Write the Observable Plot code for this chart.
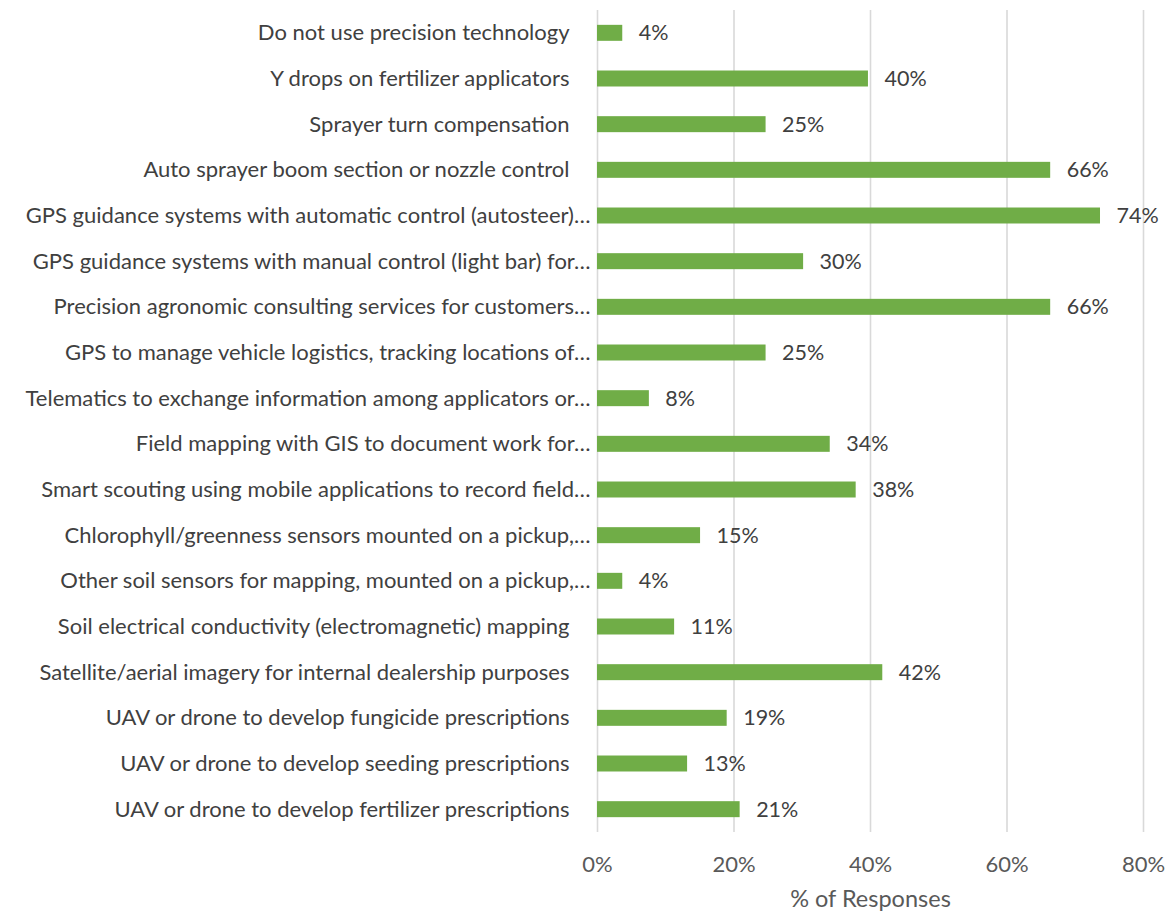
<!DOCTYPE html>
<html>
<head>
<meta charset="utf-8">
<script src="https://cdn.jsdelivr.net/npm/d3@7"></script>
<script src="https://cdn.jsdelivr.net/npm/@observablehq/plot@0.6"></script>
<style>
  html, body { margin: 0; padding: 0; background: #ffffff; }
  #chart { width: 1169px; height: 913px; }
</style>
</head>
<body>
<div id="chart"></div>
<script>
const categories = [
  "Do not use precision technology",
  "Y drops on fertilizer applicators",
  "Sprayer turn compensation",
  "Auto sprayer boom section or nozzle control",
  "GPS guidance systems with automatic control (autosteer)…",
  "GPS guidance systems with manual control (light bar) for…",
  "Precision agronomic consulting services for customers…",
  "GPS to manage vehicle logistics, tracking locations of…",
  "Telematics to exchange information among applicators or…",
  "Field mapping with GIS to document work for…",
  "Smart scouting using mobile applications to record field…",
  "Chlorophyll/greenness sensors mounted on a pickup,…",
  "Other soil sensors for mapping, mounted on a pickup,…",
  "Soil electrical conductivity (electromagnetic) mapping",
  "Satellite/aerial imagery for internal dealership purposes",
  "UAV or drone to develop fungicide prescriptions",
  "UAV or drone to develop seeding prescriptions",
  "UAV or drone to develop fertilizer prescriptions"
];
const values = [0.037, 0.397, 0.247, 0.664, 0.737, 0.302, 0.664, 0.247, 0.076, 0.341, 0.379, 0.151, 0.037, 0.113, 0.418, 0.19, 0.132, 0.209];
const xTicks = [0, 0.2, 0.4, 0.6, 0.8];
const xLabel = "% of Responses";

const data = categories.map((c, i) => ({category: c, value: values[i]}));
const pct = d3.format(".0%");
const truncated = categories.filter(c => c.endsWith("…"));
const full = categories.filter(c => !c.endsWith("…"));

const chart = Plot.plot({
  width: 1169,
  height: 913,
  marginLeft: 597,
  marginRight: 26,
  marginTop: 10,
  marginBottom: 81,
  style: {fontFamily: "Lato, sans-serif", fontSize: "22px", color: "#404040", background: "#ffffff"},
  x: {domain: [0, 0.8], ticks: xTicks, tickFormat: pct, label: null},
  y: {domain: categories, paddingInner: 0.65, paddingOuter: 0.325, round: false, label: null},
  marks: [
    Plot.ruleX(xTicks, {stroke: "#d9d9d9", strokeWidth: 1.6}),
    Plot.barX(data, {x: "value", y: "category", fill: "#70ad47"}),
    Plot.text(data, {x: "value", y: "category", text: d => pct(d.value), dx: 16, textAnchor: "start", fill: "#404040", fontSize: 21.5}),
    Plot.axisY({ticks: full, tickSize: 0, tickPadding: 28, fontSize: 22, color: "#404040", label: null}),
    Plot.axisY({ticks: truncated, tickSize: 0, tickPadding: 7, fontSize: 22, color: "#404040", label: null}),
    Plot.axisX({ticks: xTicks, tickFormat: pct, tickSize: 0, tickPadding: 24, fontSize: 22, color: "#595959", label: null}),
    Plot.text([xLabel], {frameAnchor: "bottom", dy: 74, x: 0.4, text: d => d, fill: "#595959", fontSize: 23.5})
  ]
});
document.getElementById("chart").appendChild(chart);
</script>
</body>
</html>
